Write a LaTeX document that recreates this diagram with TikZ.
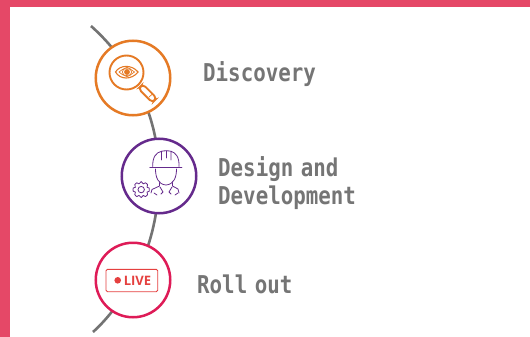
\documentclass[tikz,border=0pt]{standalone}
\usepackage{fontspec}
\setmainfont{Liberation Sans}
\newfontfamily\labelfont{DejaVu Sans Mono}
\newfontfamily\livefont{Open Sans}
\usetikzlibrary{backgrounds}
\definecolor{barred}{HTML}{E54867}
\definecolor{arcgray}{HTML}{737373}
\definecolor{orangeC}{HTML}{E57A25}
\definecolor{purpleC}{HTML}{652A8C}
\definecolor{crimsonC}{HTML}{DE1B57}
\definecolor{liveC}{HTML}{E5403F}
\definecolor{textgray}{HTML}{757575}
\tikzset{
  ring/.style={circle,draw=#1,line width=2.5pt,fill=white,minimum size=74.5pt,inner sep=0pt},
  arcline/.style={draw=arcgray,line width=2.6pt},
  steplabel/.style={text=textgray,anchor=base west,align=left,inner sep=0pt,
    font=\labelfont\bfseries\fontsize{20.8}{23.7}\selectfont,yscale=1.18,transform shape},
  iconO/.style={draw=orangeC,line width=1.9pt},
  iconOt/.style={draw=orangeC,line width=.7pt},
  iconP/.style={draw=purpleC,line width=.8pt,line cap=round,line join=round},
}
\begin{document}
\begin{tikzpicture}[x=1pt,y=-1pt]
\useasboundingbox (0,0) rectangle (530,337);
\coordinate (arcTop) at (91,26);
\coordinate (arcBottom) at (93,332);
\node[ring=orangeC] (disc) at (133,78) {};
\node[ring=purpleC] (dev) at (159,176) {};
\node[ring=crimsonC] (roll) at (133,280) {};
\begin{scope}[on background layer]
\fill[white] (0,0) rectangle (530,337);
\fill[barred] (0,0) rectangle (530,7);
\fill[barred] (0,0) rectangle (10,337);
\draw[arcline] (arcTop) .. controls (107.8,41) and (122,58.4) .. (disc.center);
\draw[arcline] (disc.center) .. controls (150.1,108.4) and (159,141.1) .. (dev.center);
\draw[arcline] (dev.center) .. controls (159,211.5) and (150.6,249.2) .. (roll.center);
\draw[arcline] (roll.center) .. controls (122.2,298.9) and (109.2,317.4) .. (arcBottom);
\end{scope}
% magnifier
\draw[iconO] (126.5,72.5) circle (17);
\draw[iconO,rounded corners=3.6pt] (138.4,88.6) -- (142.8,84.2) -- (156.8,98.2) -- (152.4,102.6) -- cycle;
\draw[iconOt] (149,97.2) -- (152.5,93.8);
\draw[iconO,line width=1.1pt] (115.5,72) .. controls (120,64.5) and (132,64.5) .. (138,72) .. controls (132,80) and (120,80) .. (115.5,72) -- cycle;
\draw[iconOt] (119,72) .. controls (123,67.5) and (130,67.5) .. (134.5,72) .. controls (130,76.7) and (123,76.7) .. (119,72) -- cycle;
\draw[iconOt] (127,72) circle (4.6);
\fill[orangeC] (127,72) circle (2.9);
% worker
\draw[iconP,line width=1.2pt] (150,167.7) -- (181.7,167.7);
\draw[iconP] (152.7,166.5) .. controls (152.5,157) and (156,152.5) .. (161.5,151.3) -- (161.5,160);
\draw[iconP] (179,166.5) .. controls (179.5,157) and (175.5,152.5) .. (171,151.3) -- (171,160);
\draw[iconP] (161.5,151.3) .. controls (164,150.6) and (168.5,150.6) .. (171,151.3);
\draw[iconP] (166.2,151) -- (166.2,158);
\draw[iconP] (155.5,169) .. controls (155.5,177) and (158,184.5) .. (166,185) .. controls (174,184.5) and (176.5,177) .. (176.5,169);
\draw[iconP] (159.5,182.5) -- (159.5,186) -- (152,189.5) -- (151,193);
\draw[iconP] (172.5,182.5) -- (172.5,186) -- (178,189) -- (179,193);
\draw[iconP] (160,187) -- (163,192) -- (161,194);
\draw[iconP] (172,187) -- (169,192) -- (171,194);
\draw[iconP] (154,193) -- (157,195);
\draw[iconP] (175,195) -- (178,193);
% gear
\draw[iconP,line width=.8pt] plot[smooth cycle,tension=.3] coordinates {
 (149.2,188) (149.2,191.3) (147,192) (147.6,194.6) (145.4,196.6) (143.3,195.4) (141.2,197.6)
 (139,195.4) (136.8,196.6) (134.8,194.6) (135.4,192) (133.2,191.3) (133.2,188) (135.4,187.3)
 (134.8,184.6) (136.8,182.8) (139,183.9) (141.2,181.6) (143.3,183.9) (145.4,182.8) (147.6,184.6) (147,187.3)};
\draw[iconP,line width=.8pt] (141.2,189.6) circle (3.2);
% live
\draw[draw=liveC,line width=.9pt,rounded corners=1.5pt] (106,269.3) rectangle (157.7,291.7);
\fill[liveC] (117.7,280.3) circle (3.3);
\node[text=liveC,inner sep=0pt,font=\livefont\bfseries\fontsize{13}{13}\selectfont] (liveText) at (137.5,280.5) {LIVE};
% labels
\node[steplabel] (discLabel) at (203,81.7) {Discovery};
\node[steplabel] (devLabel) at (218,204) {Design\hspace{-5pt} and\\Development};
\node[steplabel] (rollLabel) at (197,293.5) {Roll\hspace{-5pt} out};
\end{tikzpicture}
\end{document}
